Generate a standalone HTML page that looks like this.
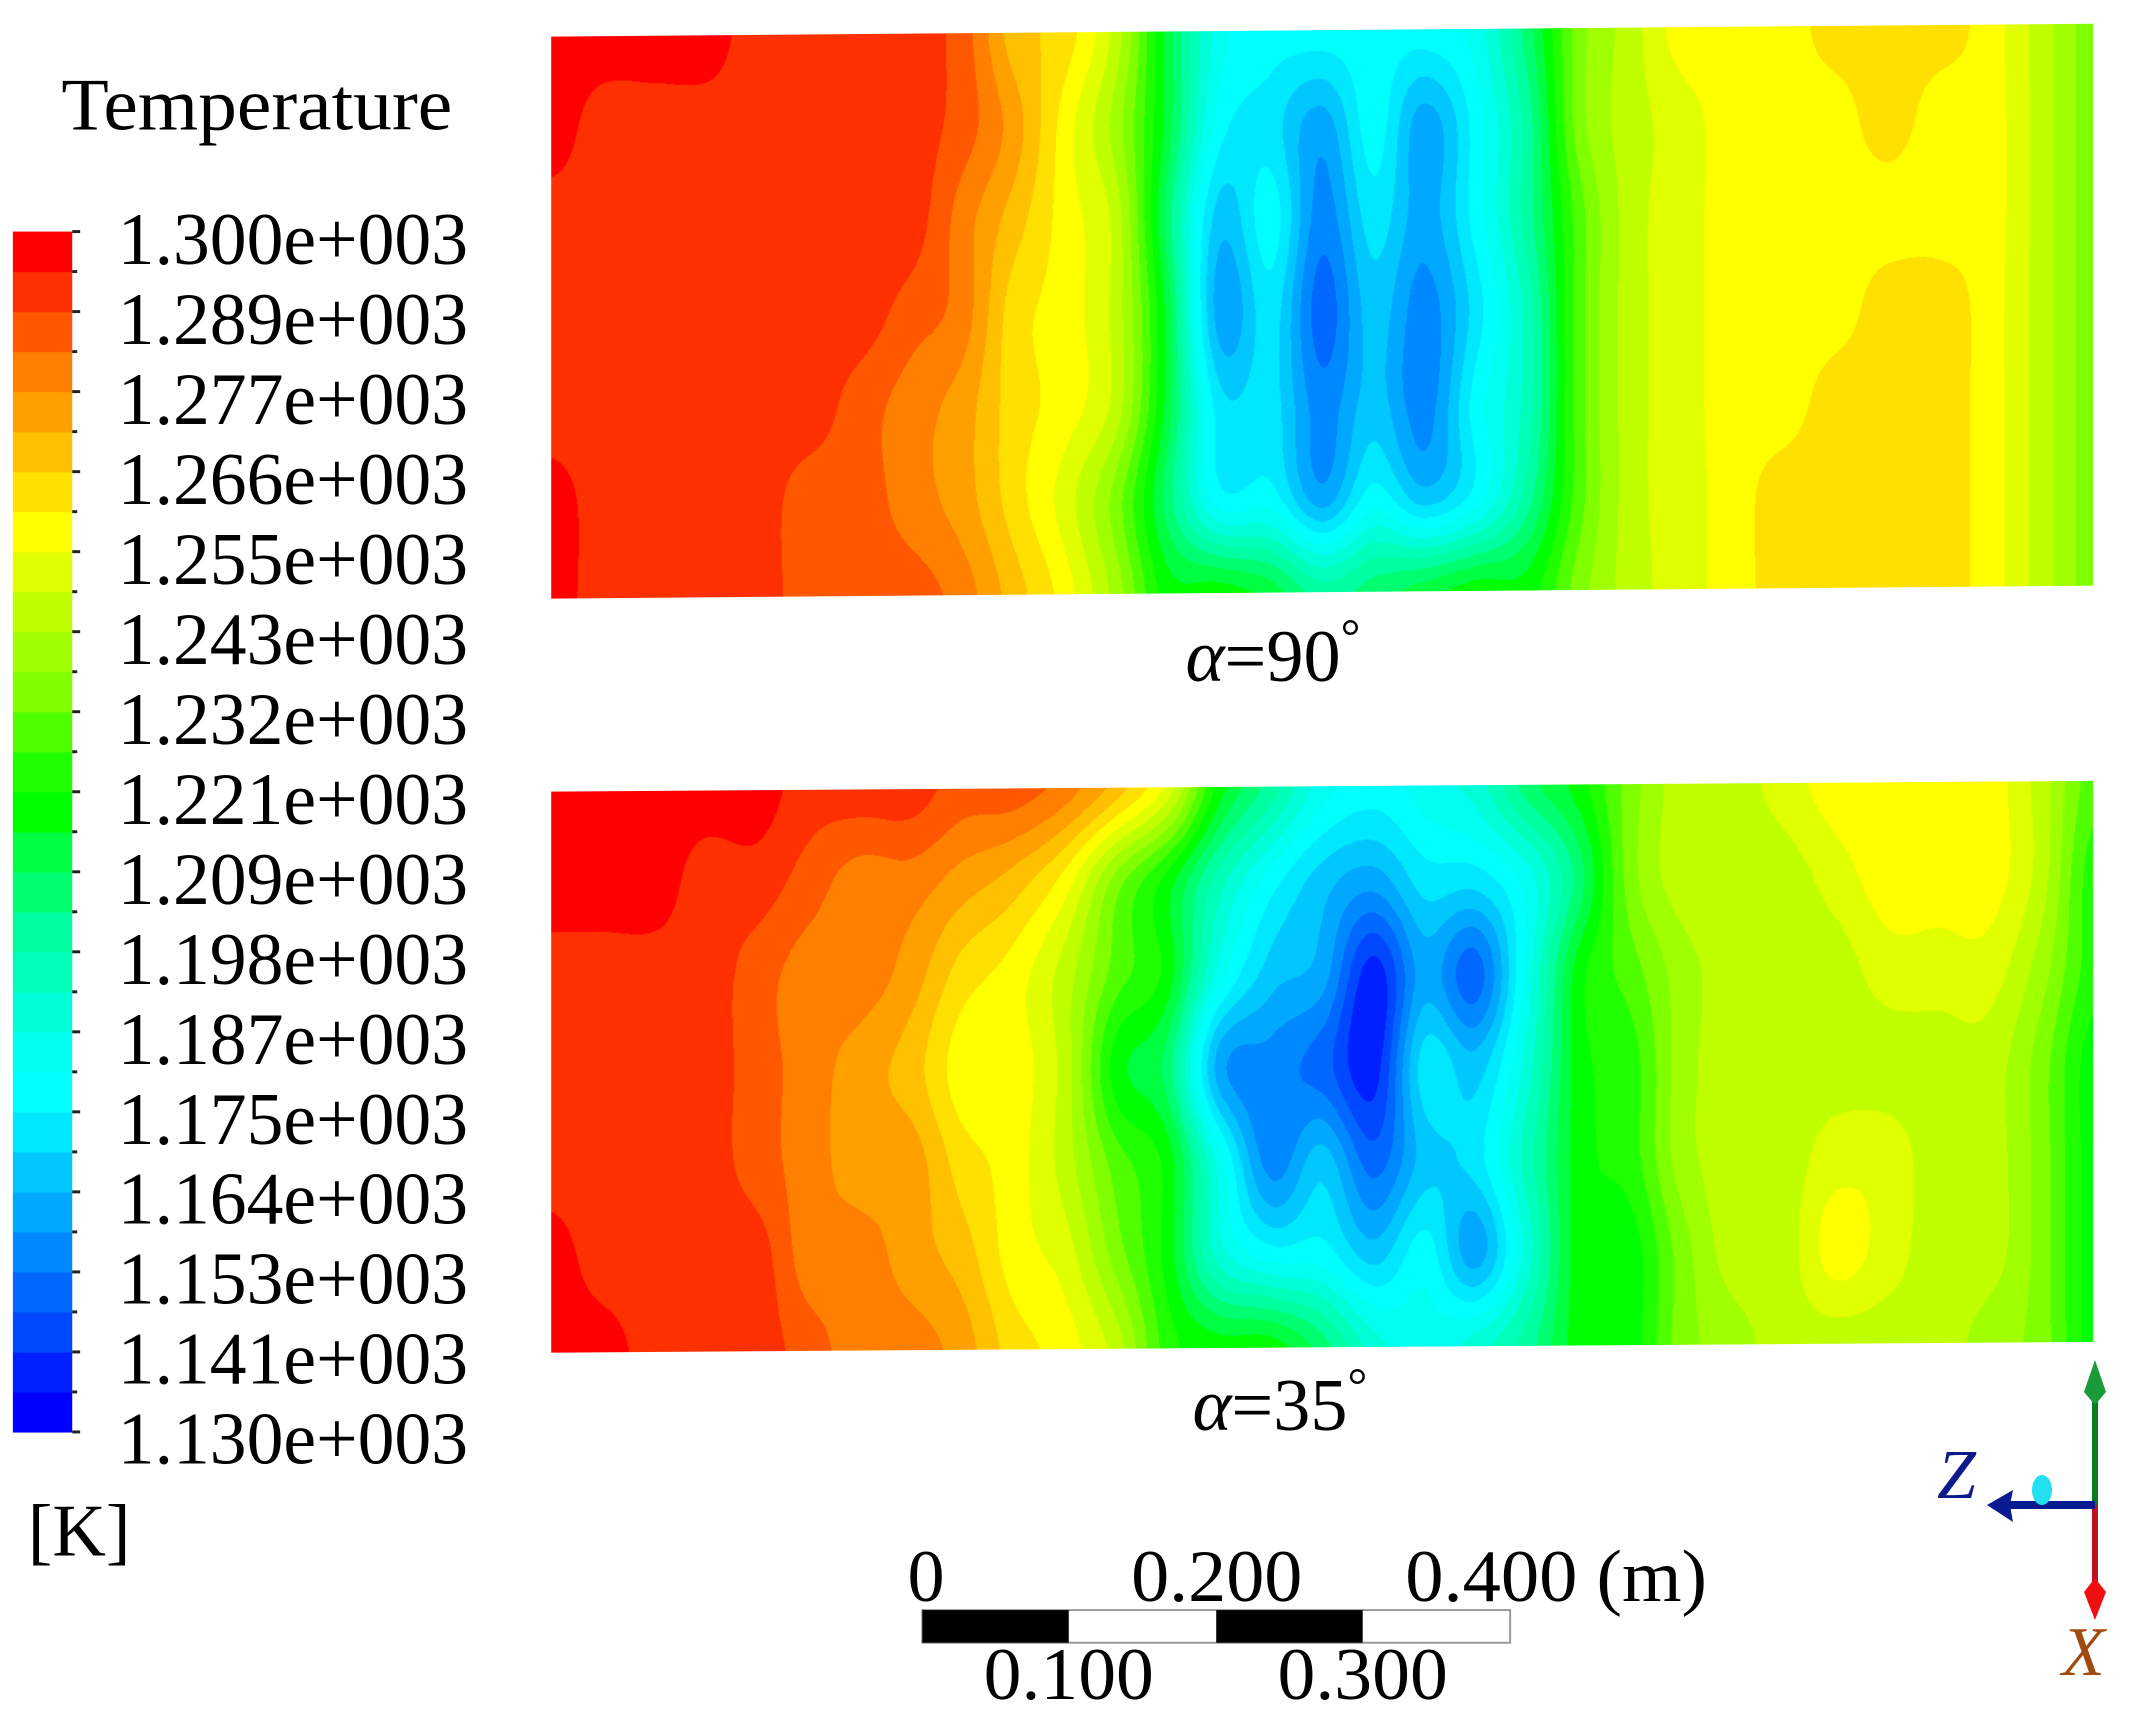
<!DOCTYPE html>
<html><head><meta charset="utf-8"><style>
html,body{margin:0;padding:0;background:#fff;}
#root{position:relative;width:2149px;height:1724px;overflow:hidden;background:#fff;font-family:"Liberation Serif",serif;}
#inner{position:absolute;left:0;top:0;width:2149px;height:1724px;transform:scale(0.9896);transform-origin:0 0;}
canvas{position:absolute;transform-origin:0 0;}
svg{position:absolute;left:0;top:0;font-family:"Liberation Serif",serif;}
</style></head><body>
<div id="root">
<div id="inner">
<canvas id="cTop" width="1558" height="568" style="left:557px;top:37px;transform:skewY(-0.48deg);"></canvas>
<canvas id="cBot" width="1558" height="567" style="left:557px;top:800px;transform:skewY(-0.40deg);"></canvas>
<svg id="svg" width="2149" height="1724" viewBox="0 0 2149 1724">
  <text x="62" y="131" font-size="75" textLength="395" lengthAdjust="spacingAndGlyphs">Temperature</text>
  <g id="cbar"></g>
  <g id="cbarLabels"></g>
  <text x="28" y="1572" font-size="75" textLength="104" lengthAdjust="spacingAndGlyphs">[K]</text>
  <text x="1198" y="688" font-size="75"><tspan font-style="italic">α</tspan>=90<tspan font-size="50" dy="-28">°</tspan></text>
  <text x="1205" y="1445" font-size="75"><tspan font-style="italic">α</tspan>=35<tspan font-size="50" dy="-28">°</tspan></text>
  <g>
    <rect x="932" y="1627" width="594" height="33" fill="#fff" stroke="#999" stroke-width="2"/>
    <rect x="932" y="1627" width="148" height="33" fill="#000"/>
    <rect x="1229" y="1627" width="148" height="33" fill="#000"/>
    <text x="917" y="1618" font-size="75">0</text>
    <text x="1143" y="1618" font-size="75" textLength="173" lengthAdjust="spacingAndGlyphs">0.200</text>
    <text x="1420" y="1618" font-size="75" textLength="305" lengthAdjust="spacingAndGlyphs">0.400 (m)</text>
    <text x="994" y="1717" font-size="75" textLength="172" lengthAdjust="spacingAndGlyphs">0.100</text>
    <text x="1291" y="1717" font-size="75" textLength="172" lengthAdjust="spacingAndGlyphs">0.300</text>
  </g>
  <g transform="scale(1.0105)">
    <line x1="2095" y1="1400" x2="2095" y2="1505" stroke="#0a7a1e" stroke-width="6"/>
    <path d="M2095 1360 L2106 1392 L2095 1405 L2084 1392 Z" fill="#1a9a3a"/>
    <line x1="2095" y1="1505" x2="2095" y2="1585" stroke="#c01020" stroke-width="6"/>
    <path d="M2095 1620 L2106 1592 L2095 1578 L2084 1592 Z" fill="#ee1010"/>
    <line x1="2005" y1="1505" x2="2095" y2="1505" stroke="#0a1a90" stroke-width="8"/>
    <path d="M1987 1505 L2013 1490 L2010 1505 L2013 1522 Z" fill="#0a1a90"/>
    <ellipse cx="2042" cy="1490" rx="10" ry="15" fill="#22e0f0"/>
    <text x="1937" y="1498" font-size="70" font-style="italic" fill="#0c1a8a">Z</text>
    <text x="2062" y="1675" font-size="70" font-style="italic" fill="#a04a10">X</text>
  </g>
</svg>
</div>
</div>
<script>
// colormap: 30 bands, index 0 = 1130 K (blue) ... 29 = 1300 K (red)
const bandColors=['#0000ff','#0020ff','#0048ff','#0068ff','#0088ff','#00a8ff','#00c8ff','#00e8ff','#00ffff','#00fff0','#00ffd8','#00ffb8','#00ffa0','#00ff70','#00ff40','#00ff00','#20ff00','#50ff00','#80ff00','#a0ff00','#c0ff00','#e0ff00','#ffff00','#ffe000','#ffc000','#ffa000','#ff8000','#ff5800','#ff3000','#ff0000'];
const legendLabels=['1.300e+003','1.289e+003','1.277e+003','1.266e+003','1.255e+003','1.243e+003','1.232e+003','1.221e+003','1.209e+003','1.198e+003','1.187e+003','1.175e+003','1.164e+003','1.153e+003','1.141e+003','1.130e+003'];
// temperature band index samples (31 columns across x, 7 rows top->bottom)
const bandTop90=[
[29,29,29,29,28,28,28,28,27,24,23,20,14,9,8,8,8,8,9,13,18,20,22,22,22,23,23,23,22,20,18],
[29,28,28,28,28,28,28,28,27,25,22,19,14,8,7,5,8,5,8,12,18,20,21,22,22,22,23,22,22,20,18],
[28,28,28,28,28,28,28,28,26,24,22,20,13,6,8,4,7,5,8,12,17,20,21,22,22,22,22,22,22,20,18],
[28,28,28,28,28,28,28,27,26,23,22,20,14,5,7,3,6,4,7,11,17,20,21,22,22,22,23,23,22,20,18],
[28,28,28,28,28,28,27,26,25,23,22,20,14,7,7,4,6,4,8,11,17,20,21,22,22,23,23,23,22,20,18],
[29,28,28,28,28,27,27,26,25,23,21,18,13,8,8,5,8,6,8,12,17,20,21,22,23,23,23,23,22,20,18],
[29,28,28,28,28,27,27,27,26,24,22,19,15,15,14,12,13,14,15,15,18,20,21,22,23,23,23,23,22,20,18]];
const bandBot35=[
[29,29,29,29,29,28,28,28,27,27,26,24,21,15,12,9,8,9,10,13,15,18,20,20,21,22,22,22,22,20,17],
[29,29,29,28,28,27,26,26,25,24,22,18,15,11,8,6,5,7,7,9,13,18,20,20,20,21,22,22,22,20,16],
[28,28,28,28,27,26,26,25,23,22,20,17,15,9,6,5,1,5,3,9,15,17,19,20,20,20,21,21,21,19,16],
[28,28,28,28,27,26,25,24,22,22,20,15,13,5,4,3,1,7,6,10,15,16,19,20,20,20,20,20,20,18,15],
[28,28,28,28,27,26,25,25,23,22,20,17,15,9,4,6,3,6,7,11,15,16,19,20,20,21,21,20,20,18,15],
[29,28,28,28,28,26,26,25,24,22,21,18,15,10,8,8,6,8,5,10,15,15,18,20,20,22,21,20,20,18,15],
[29,29,28,28,28,27,26,26,25,23,22,20,16,15,15,13,10,9,10,12,15,15,18,19,20,20,20,20,19,18,15]];

function cr(p0,p1,p2,p3,t){
  return 0.5*((2*p1)+(-p0+p2)*t+(2*p0-5*p1+4*p2-p3)*t*t+(-p0+3*p1-3*p2+p3)*t*t*t);
}
function drawField(id,grid){
  const c=document.getElementById(id),ctx=c.getContext('2d');
  const W=c.width,H=c.height,img=ctx.createImageData(W,H);
  const rows=grid.length,cols=grid[0].length;
  const g=(j,i)=>grid[Math.max(0,Math.min(rows-1,j))][Math.max(0,Math.min(cols-1,i))];
  const rgb=bandColors.map(h=>[parseInt(h.substr(1,2),16),parseInt(h.substr(3,2),16),parseInt(h.substr(5,2),16)]);
  const colIdx=[],colF=[];
  for(let x=0;x<W;x++){const gx=x/(W-1)*(cols-1);const i=Math.min(cols-2,Math.floor(gx));colIdx.push(i);colF.push(gx-i);}
  for(let y=0;y<H;y++){
    const gy=y/(H-1)*(rows-1),j=Math.min(rows-2,Math.floor(gy)),fy=gy-j;
    for(let x=0;x<W;x++){
      const i=colIdx[x],fx=colF[x];
      const r=[];
      for(let dj=-1;dj<=2;dj++){r.push(cr(g(j+dj,i-1),g(j+dj,i),g(j+dj,i+1),g(j+dj,i+2),fx));}
      const v=cr(r[0],r[1],r[2],r[3],fy);
      let k=Math.floor(v+0.5);k=Math.max(0,Math.min(29,k));
      const p=(y*W+x)*4,col=rgb[k];
      img.data[p]=col[0];img.data[p+1]=col[1];img.data[p+2]=col[2];img.data[p+3]=255;
    }
  }
  ctx.putImageData(img,0,0);
}
drawField('cTop',bandTop90);
drawField('cBot',bandBot35);

const NS='http://www.w3.org/2000/svg';
const cb=document.getElementById('cbar');
const cbTop=234,cbBot=1447,cbX=13,cbW=60;
const bh=(cbBot-cbTop)/bandColors.length;
for(let k=0;k<bandColors.length;k++){
  const r=document.createElementNS(NS,'rect');
  
  
  r.setAttribute('x',cbX);r.setAttribute('y',cbTop+(bandColors.length-1-k)*bh);
  r.setAttribute('width',cbW);r.setAttribute('height',bh+0.6);
  r.setAttribute('fill',bandColors[k]);
  cb.appendChild(r);
}
for(let k=0;k<=bandColors.length;k++){
  const t=document.createElementNS(NS,'line');
  
  
  const yy=cbTop+k*bh;
  t.setAttribute('x1',cbX+cbW);t.setAttribute('x2',cbX+cbW+(k%2===0?8:5));
  t.setAttribute('y1',yy);t.setAttribute('y2',yy);
  t.setAttribute('stroke','#222');t.setAttribute('stroke-width','3');
  cb.appendChild(t);
}
const lbl=document.getElementById('cbarLabels');
legendLabels.forEach((s,i)=>{
  const t=document.createElementNS(NS,'text');
  
  
  t.setAttribute('x',119);t.setAttribute('y',267+i*(1479-267)/(legendLabels.length-1));
  t.setAttribute('font-size','75');t.setAttribute('textLength','354');t.setAttribute('lengthAdjust','spacingAndGlyphs');
  t.setAttribute('font-family','Liberation Serif, serif');
  t.textContent=s;lbl.appendChild(t);
});
</script>
</body></html>
